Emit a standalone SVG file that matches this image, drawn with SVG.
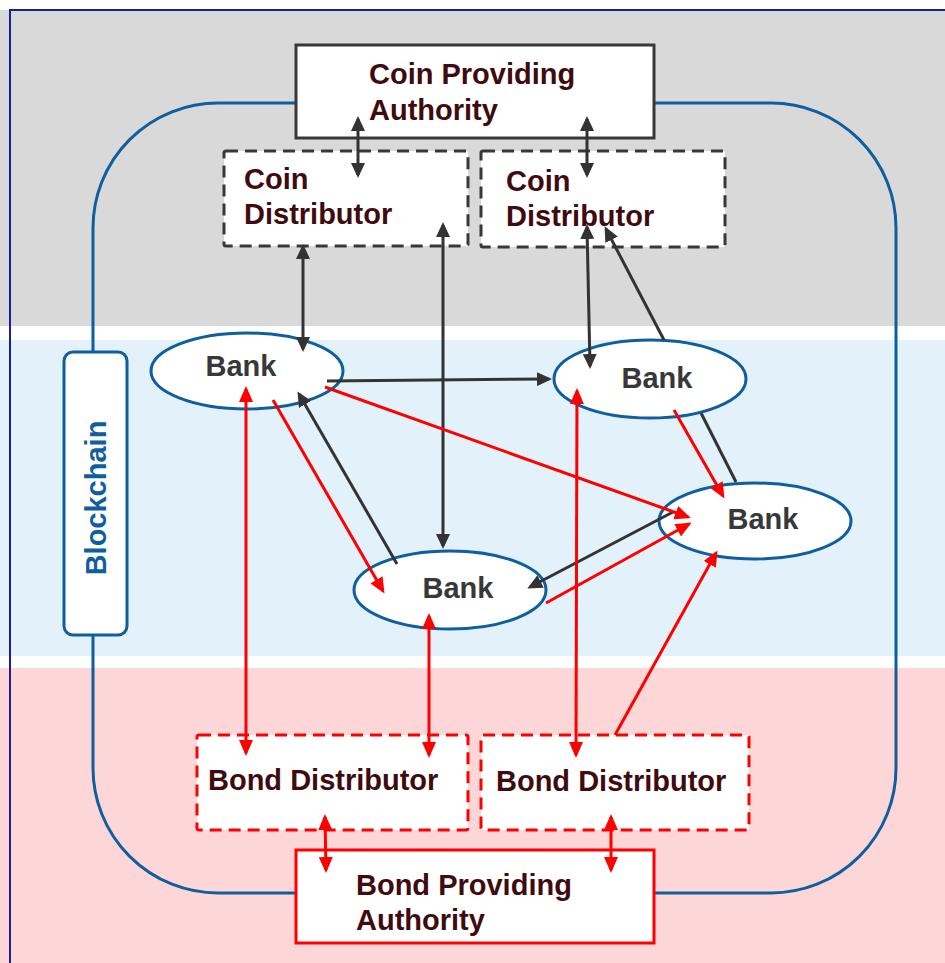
<svg xmlns="http://www.w3.org/2000/svg" width="945" height="963" viewBox="0 0 945 963">
  <defs>
    <style>
      .lbl { font-family: "Liberation Sans", Arial, sans-serif; font-weight: bold; font-size: 29px; fill: #3f0b0f; }
      .bank { font-family: "Liberation Sans", Arial, sans-serif; font-weight: bold; font-size: 29px; fill: #383838; text-anchor: middle; }
      .chain { font-family: "Liberation Sans", Arial, sans-serif; font-weight: bold; font-size: 29px; fill: #0f5f9f; text-anchor: middle; }
      .solid { fill: #ffffff; stroke: #383838; stroke-width: 3; }
      .dash { fill: #ffffff; stroke: #383838; stroke-width: 3; stroke-dasharray: 12 7; }
      .bond { fill: #ffffff; stroke: #ff0000; stroke-width: 3; stroke-dasharray: 12 7; }
      .bondsolid { fill: #ffffff; stroke: #ff0000; stroke-width: 3; }
      .ell { fill: #ffffff; stroke: #0f5f9f; stroke-width: 3; }
      .ln { fill: none; stroke: #333333; stroke-width: 3; }
      .dk { fill: none; stroke: #333333; stroke-width: 3; marker-end: url(#hd); }
      .dk2 { fill: none; stroke: #333333; stroke-width: 3; marker-start: url(#hd); marker-end: url(#hd); }
      .rd { fill: none; stroke: #ff0000; stroke-width: 3; marker-end: url(#hr); }
      .rd2 { fill: none; stroke: #ff0000; stroke-width: 3; marker-start: url(#hr); marker-end: url(#hr); }
    </style>
    <marker id="hd" markerUnits="userSpaceOnUse" markerWidth="15" markerHeight="14" refX="12" refY="7" orient="auto-start-reverse">
      <path d="M0,0 L15,7 L0,14 z" fill="#333333"/>
    </marker>
    <marker id="hr" markerUnits="userSpaceOnUse" markerWidth="16" markerHeight="14" refX="13" refY="7" orient="auto-start-reverse">
      <path d="M0,0 L16,7 L0,14 z" fill="#ff0000"/>
    </marker>
  </defs>

  <!-- background bands -->
  <rect x="0" y="0" width="945" height="963" fill="#ffffff"/>
  <rect x="0" y="10" width="945" height="316" fill="#d9d9d9"/>
  <rect x="0" y="340" width="945" height="316" fill="#e3f1fb"/>
  <rect x="0" y="668" width="945" height="295" fill="#fdd7d8"/>
  <path d="M10,963 V10 H945" fill="none" stroke="#1c1c9c" stroke-width="2"/>

  <!-- blockchain loop -->
  <rect x="93" y="103" width="803" height="790" rx="125" ry="125" fill="none" stroke="#0f5f9f" stroke-width="3"/>

  <!-- lower part of the bank-3 to coin distributor link, passes behind the upper-right bank -->
  <g id="connectors-back">
    <line class="ln" x1="736" y1="482" x2="664" y2="340"/>
  </g>

  <g id="blockchain">
    <rect x="64" y="352" width="63" height="283" rx="9" ry="9" fill="#ffffff" stroke="#0f5f9f" stroke-width="3"/>
    <text class="chain" transform="translate(106,498) rotate(-90)">Blockchain</text>
  </g>

  <g id="coin-authority">
    <rect class="solid" x="296" y="45" width="358" height="93"/>
    <text class="lbl" x="369" y="84">Coin Providing</text>
    <text class="lbl" x="369" y="120">Authority</text>
  </g>
  <g id="coin-distributor-1">
    <rect class="dash" x="224" y="151" width="244" height="95" rx="2"/>
    <text class="lbl" x="244" y="189">Coin</text>
    <text class="lbl" x="244" y="224">Distributor</text>
  </g>
  <g id="coin-distributor-2">
    <rect class="dash" x="481" y="151" width="244" height="96" rx="2"/>
    <text class="lbl" x="506" y="191">Coin</text>
    <text class="lbl" x="506" y="226">Distributor</text>
  </g>

  <g id="bank-1">
    <ellipse class="ell" cx="247" cy="371" rx="96" ry="38"/>
    <text class="bank" x="241" y="376">Bank</text>
  </g>
  <g id="bank-2">
    <ellipse class="ell" cx="650" cy="379" rx="96" ry="39"/>
    <text class="bank" x="657" y="388">Bank</text>
  </g>
  <g id="bank-3">
    <ellipse class="ell" cx="755" cy="521" rx="96" ry="38"/>
    <text class="bank" x="763" y="529">Bank</text>
  </g>
  <g id="bank-4">
    <ellipse class="ell" cx="450" cy="590" rx="96" ry="39"/>
    <text class="bank" x="458" y="598">Bank</text>
  </g>

  <g id="bond-distributor-1">
    <rect class="bond" x="197" y="735" width="271" height="95" rx="2"/>
    <text class="lbl" x="208" y="790">Bond Distributor</text>
  </g>
  <g id="bond-distributor-2">
    <rect class="bond" x="481" y="735" width="268" height="95" rx="2"/>
    <text class="lbl" x="496" y="791">Bond Distributor</text>
  </g>
  <g id="bond-authority">
    <rect class="bondsolid" x="296" y="850" width="358" height="93"/>
    <text class="lbl" x="356" y="895">Bond Providing</text>
    <text class="lbl" x="356" y="930">Authority</text>
  </g>

  <!-- connectors -->
  <g id="connectors">
    <!-- coin flows -->
    <line class="dk2" x1="358" y1="119" x2="358" y2="175"/>
    <line class="dk2" x1="587" y1="119" x2="587" y2="175"/>
    <line class="dk2" x1="303" y1="247" x2="303" y2="349"/>
    <line class="dk2" x1="443" y1="225" x2="443" y2="546"/>
    <line class="dk2" x1="587" y1="227" x2="590" y2="366"/>
    <line class="dk" x1="664" y1="340" x2="606" y2="229"/>
    <line class="dk" x1="327" y1="381" x2="549" y2="379"/>
    <line class="dk" x1="397" y1="564" x2="299" y2="394"/>
    <line class="dk" x1="673" y1="512" x2="530" y2="587"/>
    <!-- bond flows -->
    <line class="rd" x1="325" y1="387" x2="688" y2="517"/>
    <line class="rd" x1="273" y1="400" x2="383" y2="591"/>
    <line class="rd" x1="674" y1="410" x2="723" y2="496"/>
    <line class="rd" x1="546" y1="603" x2="689" y2="524"/>
    <line class="rd" x1="615" y1="735" x2="716" y2="553"/>
    <line class="rd2" x1="246" y1="389" x2="246" y2="753"/>
    <line class="rd2" x1="429" y1="616" x2="429" y2="755"/>
    <line class="rd2" x1="577" y1="391" x2="576" y2="755"/>
    <line class="rd2" x1="325" y1="817" x2="326" y2="870"/>
    <line class="rd2" x1="611" y1="817" x2="611" y2="870"/>
  </g>
</svg>
